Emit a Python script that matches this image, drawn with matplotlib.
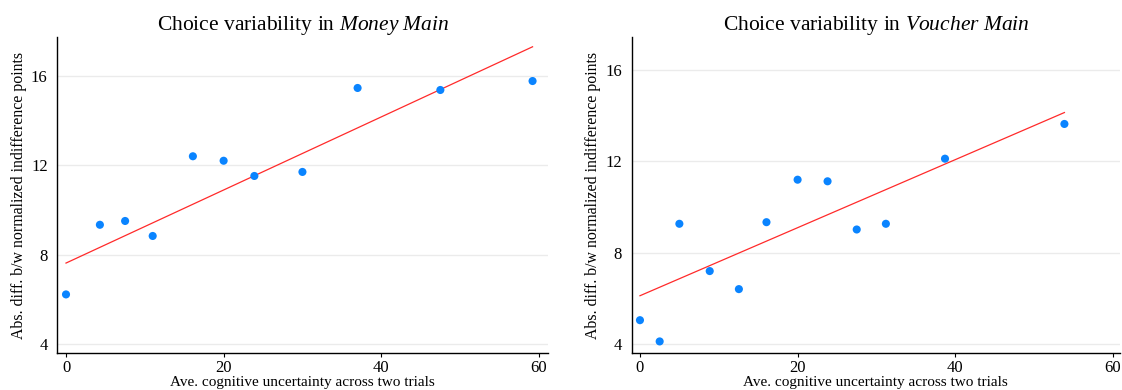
import matplotlib.pyplot as plt
import numpy as np

plt.rcParams['font.family'] = ['Liberation Serif', 'DejaVu Serif']
plt.rcParams['mathtext.fontset'] = 'custom'
plt.rcParams['mathtext.rm'] = 'Liberation Serif'
plt.rcParams['mathtext.it'] = 'Liberation Serif:italic'

# Money Main (binned scatter)
money_x = [0.0, 4.3, 7.5, 11.0, 16.1, 20.0, 23.9, 30.0, 37.0, 47.5, 59.2]
money_y = [6.23, 9.34, 9.51, 8.84, 12.4, 12.2, 11.52, 11.7, 15.45, 15.36, 15.76]
money_fit = [7.63, 17.29]   # fitted value at min and max x

# Voucher Main (binned scatter)
voucher_x = [0.0, 2.5, 5.0, 8.85, 12.55, 16.05, 20.0, 23.8, 27.5, 31.2, 38.7, 53.85]
voucher_y = [5.05, 4.12, 9.27, 7.2, 6.41, 9.34, 11.2, 11.13, 9.02, 9.27, 12.12, 13.64]
voucher_fit = [6.12, 14.14]

xticks = [0, 20, 40, 60]
yticks = [4, 8, 12, 16]

panels = [
    ("Money Main", money_x, money_y, money_fit, [0.0511, 0.0941, 0.4376, 0.8118], (-1.1, 61.2), (3.6, 17.74)),
    ("Voucher Main", voucher_x, voucher_y, voucher_fit, [0.5630, 0.0941, 0.4352, 0.8118], (-1.05, 60.9), (3.6, 17.46)),
]

fig = plt.figure(figsize=(11.22, 3.9), dpi=100)

for name, xs, ys, fit, rect, xlim, ylim in panels:
    ax = fig.add_axes(rect)
    ax.set_xlim(*xlim)
    ax.set_ylim(*ylim)
    for y in yticks:
        ax.axhline(y, color='#ebebeb', lw=1, zorder=0)
    ax.plot([min(xs), max(xs)], fit, color='#ff2a2a', lw=0.9, zorder=2)
    ax.scatter(xs, ys, s=34, color='#0a84ff', edgecolors='none', zorder=3)
    ax.set_xticks(xticks)
    ax.set_yticks(yticks)
    for s in ['top', 'right']:
        ax.spines[s].set_visible(False)
    for s in ['left', 'bottom']:
        ax.spines[s].set_linewidth(1.0)
    ax.tick_params(axis='x', length=3, width=0.8, pad=2, labelsize=12)
    ax.tick_params(axis='y', length=0, pad=7, labelsize=12)
    ax.set_xlabel('Ave. cognitive uncertainty across two trials', fontsize=11, labelpad=0)
    ax.set_ylabel('Abs. diff. b/w normalized indifference points', fontsize=11.4, labelpad=3)
    ax.set_title('Choice variability in $\\it{' + name.replace(' ', '\\ ') + '}$', fontsize=15.5, pad=5)

fig.savefig('out.png', dpi=100)
